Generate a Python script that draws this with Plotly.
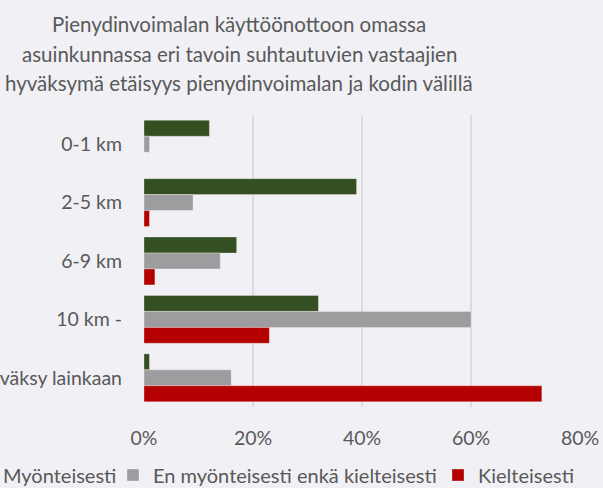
import plotly.graph_objects as go

categories = ["0-1 km", "2-5 km", "6-9 km", "10 km -", "En hyväksy lainkaan"]
series_names = ["Myönteisesti", "En myönteisesti enkä kielteisesti", "Kielteisesti"]
myonteisesti = [0.12, 0.39, 0.17, 0.32, 0.01]
neutraali = [0.01, 0.09, 0.14, 0.60, 0.16]
kielteisesti = [0.0, 0.01, 0.02, 0.23, 0.73]
x_ticks = [0, 0.2, 0.4, 0.6, 0.8]
x_tick_labels = ["0%", "20%", "40%", "60%", "80%"]
colors = ["#344F22", "#9D9DA0", "#B40000"]
title_lines = ["Pienydinvoimalan käyttöönottoon omassa",
               "asuinkunnassa eri tavoin suhtautuvien vastaajien",
               "hyväksymä etäisyys pienydinvoimalan ja kodin välillä"]

FONT = "Lato, 'Open Sans', sans-serif"
TXT = "#595959"
BG = "#F0F0F5"

L, R, T, B = 144, 23, 115, 81
PW = 603 - L - R
PH = 488 - T - B

legend_ids = ["legend", "legend2", "legend3"]
legend_text_x = [3, 153, 478]   # pixel x where each legend label starts
legend_cy = 475

fig = go.Figure()
for name, vals, col, lid in zip(series_names, [myonteisesti, neutraali, kielteisesti], colors, legend_ids):
    fig.add_trace(go.Bar(
        y=categories, x=vals, name=name, orientation="h", legend=lid,
        marker=dict(color=col, line=dict(color="rgba(255,255,255,0.3)", width=1)),
    ))

title_ann = []
for i, line in enumerate(title_lines):
    cy = 24 + 29.5 * i
    title_ann.append(dict(text=line, x=(239 - L) / PW, xref="paper", xanchor="center",
                          y=1, yref="paper", yanchor="middle", yshift=T - cy,
                          showarrow=False, font=dict(size=20.5, color=TXT, family=FONT)))

legend_layout = {}
for lid, tx in zip(legend_ids, legend_text_x):
    legend_layout[lid] = dict(orientation="h", x=(tx - 40 - L) / PW, xanchor="left",
                              y=-(legend_cy - (T + PH)) / PH, yanchor="middle",
                              font=dict(size=20, color=TXT, family=FONT),
                              bgcolor="rgba(0,0,0,0)")

fig.update_layout(
    template="none",
    width=603, height=488,
    paper_bgcolor=BG, plot_bgcolor=BG,
    margin=dict(l=L, r=R, t=T, b=B, autoexpand=False),
    barmode="group", bargap=0.18, bargroupgap=0,
    font=dict(family=FONT, color=TXT, size=19),
    showlegend=True,
    annotations=title_ann,
    **legend_layout,
)
fig.update_xaxes(range=[0, 0.8], tickvals=x_ticks, ticktext=x_tick_labels,
                 showgrid=True, gridcolor="#DCDCE0", gridwidth=2, zeroline=False,
                 showline=False, ticks="", ticklabelstandoff=17, automargin=False,
                 tickfont=dict(size=19.5, color=TXT))
fig.update_yaxes(autorange="reversed", showgrid=False, zeroline=False, showline=False,
                 ticks="", ticklabelstandoff=21, automargin=False,
                 tickfont=dict(size=19.5, color=TXT))

fig.write_html("out.html", config={"displayModeBar": False},
               post_script="document.body.style.margin='0';")
